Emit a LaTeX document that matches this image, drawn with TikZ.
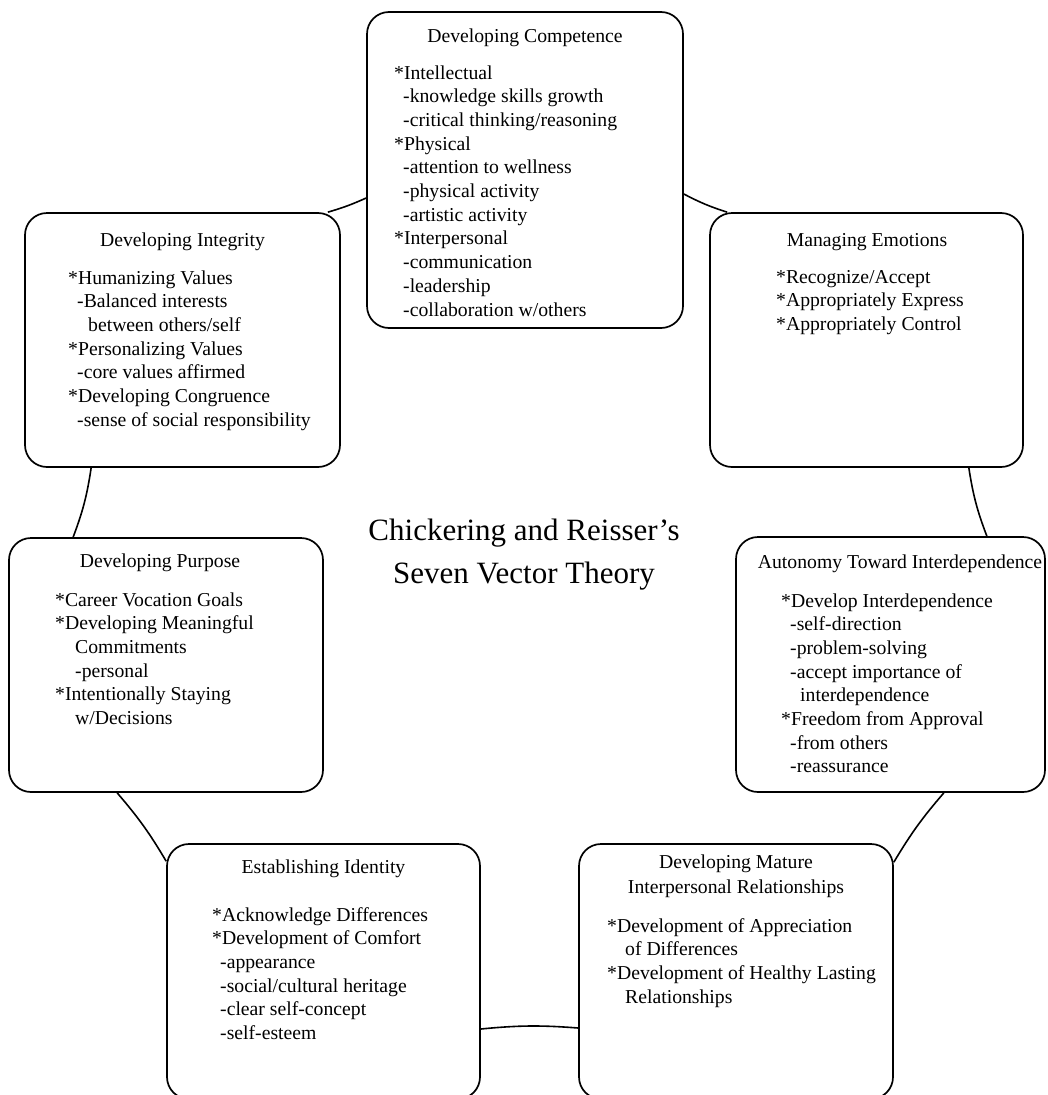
\documentclass[tikz,border=0pt]{standalone}
\usepackage{fontspec}
\setmainfont{Liberation Serif}
% stacked lines, baseline of the node = baseline of the first line
\newcommand\stackl[1]{\begin{tabular}[t]{@{}l@{}}#1\end{tabular}}
\newcommand\stackc[1]{\begin{tabular}[t]{@{}c@{}}#1\end{tabular}}
\newcommand\ind[1][9pt]{\hspace*{#1}}
% a bullet star that a preceding \\ cannot swallow
\newcommand\bul{{*}}
\begin{document}
\begin{tikzpicture}[x=1pt,y=-1pt,
  vbox/.style={draw, rounded corners=22pt, line width=1.7pt, inner sep=0pt},
  ring/.style={line width=1.6pt},
  boxtitle/.style={inner sep=0pt, anchor=base, font=\fontsize{19.7}{25}\selectfont},
  boxbody/.style={inner sep=0pt, anchor=base west, font=\fontsize{19.7}{23.7}\selectfont},
  maintitle/.style={inner sep=0pt, anchor=base, font=\fontsize{31}{43}\selectfont},
]
\useasboundingbox (0,0) rectangle (1047,1095);
\clip (0,0) rectangle (1047,1095);
\fill[white] (0,0) rectangle (1047,1095);

% the seven vector boxes
\node[vbox, minimum width=316pt, minimum height=316pt] (c) at (525,170) {};
\node[vbox, minimum width=313pt, minimum height=254pt] (m) at (866.5,340) {};
\node[vbox, minimum width=309pt, minimum height=255pt] (a) at (890.5,664.5) {};
\node[vbox, minimum width=314pt, minimum height=255pt] (r) at (736,971.5) {};
\node[vbox, minimum width=313pt, minimum height=255pt] (e) at (323.5,971.5) {};
\node[vbox, minimum width=314pt, minimum height=254pt] (p) at (166,665) {};
\node[vbox, minimum width=315pt, minimum height=254pt] (i) at (182.5,340) {};

% ring segments joining the boxes
\draw[ring] ([yshift=-24pt]c.east) to[bend right=5] ([xshift=18pt]m.north west);
\draw[ring] ([xshift=-55pt]m.south east) to[bend right=6] ([xshift=-59pt]a.north east);
\draw[ring] ([xshift=-102pt]a.south east) to[bend right=5] ([yshift=-19pt]r.north east);
\draw[ring] ([yshift=-56.5pt]r.west) to[bend right=5] ([yshift=-57.5pt]e.east);
\draw[ring] ([yshift=-18pt]e.north west) to[bend right=5] ([xshift=109pt]p.south west);
\draw[ring] ([xshift=65pt]p.north west) to[bend right=6] ([xshift=67pt]i.south west);
\draw[ring] ([xshift=-13pt]i.north east) to[bend right=4] ([yshift=-28pt]c.west);

% central title
\node[maintitle] (title) at (524,540) {\stackc{Chickering and Reisser’s\\Seven Vector Theory}};

% Developing Competence
\node[boxtitle] (c-t) at (525,42) {Developing Competence};
\node[boxbody] (c-b) at (394,79) {\stackl{%
\bul Intellectual\\
\ind-knowledge skills growth\\
\ind-critical thinking/reasoning\\
\bul Physical\\
\ind-attention to wellness\\
\ind-physical activity\\
\ind-artistic activity\\
\bul Interpersonal\\
\ind-communication\\
\ind-leadership\\
\ind-collaboration w/others}};

% Managing Emotions
\node[boxtitle] (m-t) at (867,246) {Managing Emotions};
\node[boxbody] (m-b) at (776,283) {\stackl{%
\bul Recognize/Accept\\
\bul Appropriately Express\\
\bul Appropriately Control}};

% Autonomy Toward Interdependence
\node[boxtitle] (a-t) at (900,568) {Autonomy Toward Interdependence};
\node[boxbody] (a-b) at (781,607) {\stackl{%
\bul Develop Interdependence\\
\ind-self-direction\\
\ind-problem-solving\\
\ind-accept importance of\\
\ind[19pt]interdependence\\
\bul Freedom from Approval\\
\ind-from others\\
\ind-reassurance}};

% Developing Mature Interpersonal Relationships
\node[boxtitle] (r-t) at (736,868) {\stackc{Developing Mature\\Interpersonal Relationships}};
\node[boxbody] (r-b) at (607,932) {\stackl{%
\bul Development of Appreciation\\
\ind[18pt]of Differences\\
\bul Development of Healthy Lasting\\
\ind[18pt]Relationships}};

% Establishing Identity
\node[boxtitle] (e-t) at (323.5,873) {Establishing Identity};
\node[boxbody] (e-b) at (212,921) {\stackl{%
\bul Acknowledge Differences\\
\bul Development of Comfort\\
\ind[8pt]-appearance\\
\ind[8pt]-social/cultural heritage\\
\ind[8pt]-clear self-concept\\
\ind[8pt]-self-esteem}};

% Developing Purpose
\node[boxtitle] (p-t) at (160,567) {Developing Purpose};
\node[boxbody] (p-b) at (55,606) {\stackl{%
\bul Career Vocation Goals\\
\bul Developing Meaningful\\
\ind[20pt]Commitments\\
\ind[20pt]-personal\\
\bul Intentionally Staying\\
\ind[20pt]w/Decisions}};

% Developing Integrity
\node[boxtitle] (i-t) at (182.5,246) {Developing Integrity};
\node[boxbody] (i-b) at (68,284) {\stackl{%
\bul Humanizing Values\\
\ind-Balanced interests\\
\ind[20pt]between others/self\\
\bul Personalizing Values\\
\ind-core values affirmed\\
\bul Developing Congruence\\
\ind-sense of social responsibility}};
\end{tikzpicture}
\end{document}
